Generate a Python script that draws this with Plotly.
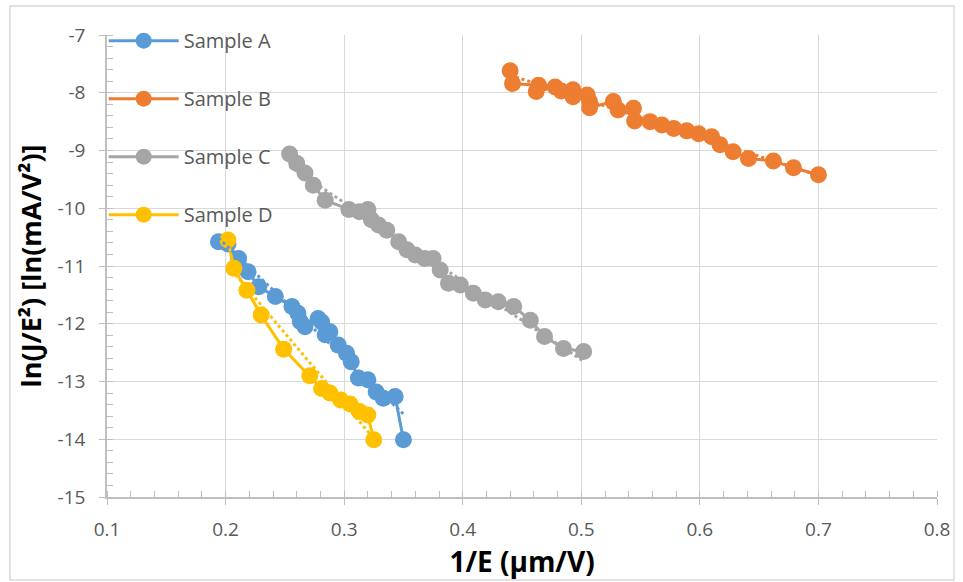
import numpy as np
import plotly.graph_objects as go

# Fowler-Nordheim data: 1/E (µm/V) vs ln(J/E²) [ln(mA/V²)]
a_x = [0.194, 0.202, 0.211, 0.219, 0.228, 0.242, 0.256, 0.261, 0.263, 0.267,
       0.278, 0.281, 0.284, 0.288, 0.295, 0.302, 0.306, 0.312, 0.320, 0.327,
       0.333, 0.343, 0.350]
a_y = [-10.58, -10.62, -10.87, -11.10, -11.36, -11.53, -11.70, -11.82, -11.96, -12.05,
       -11.91, -11.97, -12.19, -12.14, -12.37, -12.51, -12.66, -12.94, -12.97, -13.18,
       -13.29, -13.26, -14.01]

b_x = [0.440, 0.442, 0.464, 0.462, 0.478, 0.483, 0.493, 0.493, 0.505, 0.507,
       0.507, 0.527, 0.531, 0.544, 0.545, 0.558, 0.568, 0.578, 0.589, 0.599,
       0.610, 0.617, 0.628, 0.641, 0.662, 0.679, 0.700]
b_y = [-7.62, -7.84, -7.87, -7.98, -7.90, -7.97, -7.95, -8.07, -8.04, -8.15,
       -8.26, -8.15, -8.30, -8.27, -8.49, -8.50, -8.56, -8.62, -8.66, -8.71,
       -8.76, -8.90, -9.02, -9.14, -9.18, -9.30, -9.42]

c_x = [0.254, 0.260, 0.267, 0.274, 0.284, 0.304, 0.313, 0.320, 0.323, 0.329,
       0.336, 0.346, 0.353, 0.360, 0.368, 0.375, 0.381, 0.388, 0.398, 0.409,
       0.419, 0.430, 0.443, 0.457, 0.469, 0.485, 0.502]
c_y = [-9.06, -9.22, -9.39, -9.60, -9.86, -10.02, -10.06, -10.02, -10.20, -10.29,
       -10.38, -10.58, -10.72, -10.81, -10.87, -10.87, -11.07, -11.30, -11.33, -11.47,
       -11.59, -11.62, -11.70, -11.94, -12.22, -12.43, -12.48]

d_x = [0.202, 0.207, 0.218, 0.230, 0.249, 0.271, 0.281, 0.288, 0.297, 0.305,
       0.313, 0.320, 0.325]
d_y = [-10.55, -11.04, -11.42, -11.85, -12.44, -12.90, -13.12, -13.20, -13.32, -13.39,
       -13.52, -13.58, -14.01]

series = [
    ("Sample A", a_x, a_y, "#5B9BD5"),
    ("Sample B", b_x, b_y, "#ED7D31"),
    ("Sample C", c_x, c_y, "#A5A5A5"),
    ("Sample D", d_x, d_y, "#FFC000"),
]

x_ticks = [0.1, 0.2, 0.3, 0.4, 0.5, 0.6, 0.7, 0.8]
y_ticks = [-7, -8, -9, -10, -11, -12, -13, -14, -15]

FONT = "Open Sans, Lato, sans-serif"
TICK_COLOR = "#595959"
GRID = "#D9D9D9"
AXIS = "#BFBFBF"

fig = go.Figure()

for name, xs, ys, color in series:
    fig.add_trace(go.Scatter(
        x=xs, y=ys, name=name, mode="lines+markers", legendgroup=name,
        line=dict(color=color, width=3),
        marker=dict(color=color, size=17),
    ))

# Linear trendlines (least squares) over each series' x span
for name, xs, ys, color in series:
    k, c = np.polyfit(xs, ys, 1)
    tx = np.array([min(xs), max(xs)])
    fig.add_trace(go.Scatter(
        x=tx, y=k * tx + c, mode="lines", showlegend=False, hoverinfo="skip",
        line=dict(color=color, width=3, dash="dot"),
    ))

fig.update_layout(
    width=963, height=582,
    margin=dict(l=107, r=26, t=35, b=85),
    paper_bgcolor="white", plot_bgcolor="white",
    font=dict(family=FONT, color=TICK_COLOR, size=19),
    showlegend=True,
    legend=dict(
        x=-0.004, xanchor="left", y=1.03, yanchor="top",
        bgcolor="rgba(0,0,0,0)", borderwidth=0,
        font=dict(family=FONT, size=20, color=TICK_COLOR),
        tracegroupgap=29, itemwidth=70,
    ),
    xaxis=dict(
        range=[0.1, 0.8], tickvals=x_ticks, ticktext=[f"{v:g}" for v in x_ticks],
        showgrid=True, gridcolor=GRID, gridwidth=1,
        showline=True, linecolor=AXIS, linewidth=1.5,
        ticks="outside", ticklen=6, tickcolor=AXIS,
        minor=dict(dtick=0.02, ticks="inside", ticklen=6, tickcolor=AXIS, showgrid=False),
        tickfont=dict(size=19, color=TICK_COLOR),
        ticklabelstandoff=8,
        zeroline=False,
        title=dict(text="<b>1/E (µm/V)</b>", font=dict(size=28, color="black"), standoff=6),
    ),
    yaxis=dict(
        range=[-15, -7], tickvals=y_ticks, ticktext=[f"{v:g}" for v in y_ticks],
        showgrid=True, gridcolor=GRID, gridwidth=1,
        showline=True, linecolor=AXIS, linewidth=1.5,
        ticks="outside", ticklen=6, tickcolor=AXIS,
        minor=dict(dtick=0.2, ticks="inside", ticklen=6, tickcolor=AXIS, showgrid=False),
        tickfont=dict(size=19, color=TICK_COLOR),
        ticklabelstandoff=10,
        zeroline=False,
        title=dict(text="<b>ln(J/E²) [ln(mA/V²)]</b>", font=dict(size=27, color="black"), standoff=8),
    ),
    shapes=[dict(
        type="rect", xref="paper", yref="paper",
        x0=-0.1169, x1=1.0205, y0=-0.1797, y1=1.0628,
        line=dict(color="#D9D9D9", width=1.5), fillcolor="rgba(0,0,0,0)", layer="below",
    )],
)

fig.write_html("out.html")
